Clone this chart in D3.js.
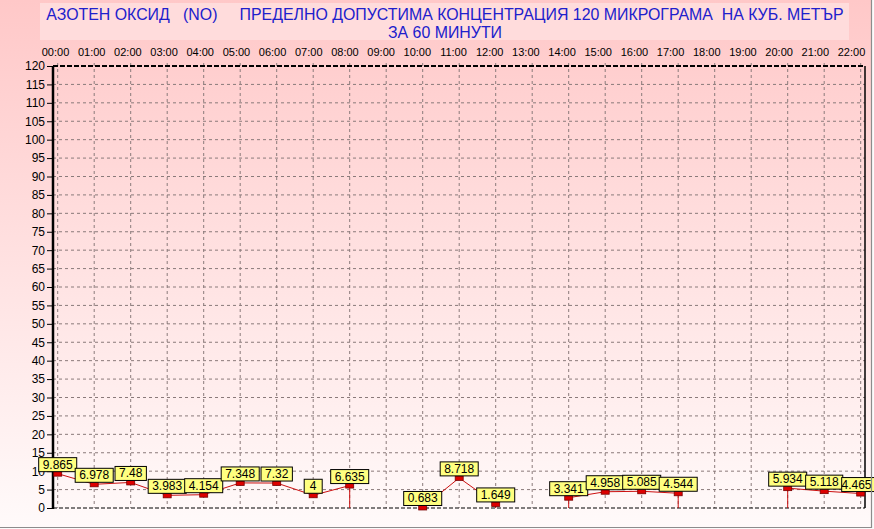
<!DOCTYPE html>
<html>
<head>
<meta charset="utf-8">
<script src="https://cdn.jsdelivr.net/npm/d3@7"></script>
<style>
  html, body { margin: 0; padding: 0; background: #ffffff; }
  svg { display: block; }
  text { font-family: "Liberation Sans", Arial, sans-serif; }
</style>
</head>
<body>
<script>
// ---- data ----
const hours = d3.range(0, 23);
const hourLabels = ["00:00","01:00","02:00","03:00","04:00","05:00","06:00","07:00","08:00","09:00","10:00","11:00","12:00","13:00","14:00","15:00","16:00","17:00","18:00","19:00","20:00","21:00","22:00"];
const values = [9.865, 6.978, 7.48, 3.983, 4.154, 7.348, 7.32, 4, 6.635, null, 0.683, 8.718, 1.649, null, 3.341, 4.958, 5.085, 4.544, null, null, 5.934, 5.118, 4.465];
const valueLabels = ["9.865","6.978","7.48","3.983","4.154","7.348","7.32","4","6.635",null,"0.683","8.718","1.649",null,"3.341","4.958","5.085","4.544",null,null,"5.934","5.118","4.465"];
const yTicks = d3.range(0, 121, 5);
const titleLines = ["АЗОТЕН ОКСИД   (NO)     ПРЕДЕЛНО ДОПУСТИМА КОНЦЕНТРАЦИЯ 120 МИКРОГРАМА  НА КУБ. МЕТЪР", "ЗА 60 МИНУТИ"];

const W = 874, H = 529;
const svg = d3.select("body").append("svg").attr("width", W).attr("height", H);

const defs = svg.append("defs");
const grad = defs.append("linearGradient").attr("id", "bg").attr("x1", 0).attr("y1", 0).attr("x2", 0).attr("y2", 1);
grad.append("stop").attr("offset", "0%").attr("stop-color", "#ffc8c8");
grad.append("stop").attr("offset", "55%").attr("stop-color", "#ffe4e4");
grad.append("stop").attr("offset", "100%").attr("stop-color", "#fffafa");

svg.append("rect").attr("width", W).attr("height", H).attr("fill", "#fbfbfb");
const root = svg.append("g");
root.append("rect").attr("width", 871).attr("height", 527).attr("fill", "url(#bg)");

// scales
const x = d3.scaleLinear().domain([0, 22]).range([57.7, 860.7]);
const xLab = d3.scaleLinear().domain([0, 22]).range([55.5, 851.5]);
const y = d3.scaleLinear().domain([0, 120]).range([508, 66]);
const plotL = 53, plotR = 865, plotT = y(120), plotB = y(0);

// title box
root.append("rect").attr("x", 40).attr("y", 3).attr("width", 809).attr("height", 37).attr("fill", "#ffdcdc");
root.selectAll("text.title").data(titleLines).join("text")
  .attr("class", "title")
  .attr("x", 445).attr("y", (d, i) => 20 + i * 18)
  .attr("text-anchor", "middle")
  .attr("font-size", "15.9px")
  .attr("fill", "#2020cc")
  .style("white-space", "pre")
  .text(d => d);

// gridlines
const grid = root.append("g");
grid.selectAll("line.v").data(hours).join("line")
  .attr("x1", d => x(d)).attr("x2", d => x(d)).attr("y1", plotT - 3).attr("y2", plotB)
  .attr("stroke", "#8a7a7a").attr("stroke-dasharray", "3,3");
grid.selectAll("line.h").data(yTicks.filter(v => v > 0 && v < 120)).join("line")
  .attr("x1", plotL).attr("x2", plotR).attr("y1", d => y(d)).attr("y2", d => y(d))
  .attr("stroke", "#8a7a7a").attr("stroke-dasharray", "3,3");

// frame
root.append("line").attr("x1", plotL).attr("x2", plotR).attr("y1", plotT).attr("y2", plotT)
  .attr("stroke", "#000").attr("stroke-width", 2).attr("stroke-dasharray", "5,2");
root.append("line").attr("x1", plotL).attr("x2", plotR).attr("y1", plotB).attr("y2", plotB)
  .attr("stroke", "#000").attr("stroke-width", 1.2).attr("stroke-dasharray", "4,2");
root.append("line").attr("x1", plotR).attr("x2", plotR).attr("y1", plotT).attr("y2", plotB)
  .attr("stroke", "#000").attr("stroke-width", 1.5);
root.append("line").attr("x1", plotL).attr("x2", plotL).attr("y1", plotT).attr("y2", plotB + 1)
  .attr("stroke", "#000").attr("stroke-width", 2.5);

// y axis
const yAxis = root.append("g").attr("transform", `translate(${plotL - 1},0)`)
  .call(d3.axisLeft(y).tickValues(yTicks).tickSize(5).tickPadding(2));
yAxis.select(".domain").remove();
yAxis.selectAll("text").attr("font-size", "12px").attr("font-family", "Liberation Sans, Arial, sans-serif").attr("fill", "#000");
yAxis.selectAll("line").attr("stroke", "#000");

// top labels
root.selectAll("text.hl").data(hours).join("text")
  .attr("class", "hl")
  .attr("x", d => xLab(d)).attr("y", 56)
  .attr("text-anchor", "middle").attr("font-size", "11px").attr("fill", "#000")
  .text(d => hourLabels[d]);

// panel border (under the labels)
svg.append("line").attr("x1", 0).attr("x2", 872).attr("y1", 527.5).attr("y2", 527.5).attr("stroke", "#8c8c8c").attr("stroke-width", 1.2);
svg.append("line").attr("x1", 871.5).attr("x2", 871.5).attr("y1", 0).attr("y2", 528).attr("stroke", "#8c8c8c").attr("stroke-width", 1.2);

// line with vertical drops to zero at gaps
const segs = [];
let cur = null;
hours.forEach(h => {
  const v = values[h];
  if (v == null) { if (cur) { cur.push([h - 1, 0]); segs.push(cur); cur = null; } return; }
  if (!cur) { cur = []; if (h > 0) cur.push([h, 0]); }
  cur.push([h, v]);
});
if (cur) segs.push(cur);
const lineGen = d3.line().x(d => x(d[0])).y(d => y(d[1]) + (d[1] > 0 ? 2 : 0));
root.append("g").selectAll("path").data(segs).join("path")
  .attr("d", lineGen).attr("fill", "none").attr("stroke", "#cc1010").attr("stroke-width", 1);

// markers
const data = hours.filter(h => values[h] != null);
root.append("g").selectAll("rect").data(data).join("rect")
  .attr("x", h => x(h) - 4).attr("y", h => y(values[h])).attr("width", 8).attr("height", 4.5)
  .attr("fill", "#dd0000").attr("stroke", "#7a0000").attr("stroke-width", 0.8);

// value labels
const lab = root.append("g");
data.forEach(h => {
  const g = lab.append("g");
  const r = g.append("rect");
  const t = g.append("text").attr("y", y(values[h]) - 3)
    .attr("text-anchor", "middle").attr("font-size", "12px").attr("fill", "#000").text(valueLabels[h]);
  const tw = t.node().getComputedTextLength();
  const w = Math.max(tw + 8, 18);
  const cx = Math.min(x(h), W - tw / 2 - 2.5);
  t.attr("x", cx);
  r.attr("x", x(h) - w / 2).attr("y", y(values[h]) - 14).attr("width", w).attr("height", 14)
    .attr("fill", "#ffff80").attr("stroke", "#000").attr("stroke-width", 1);
});
</script>
</body>
</html>
